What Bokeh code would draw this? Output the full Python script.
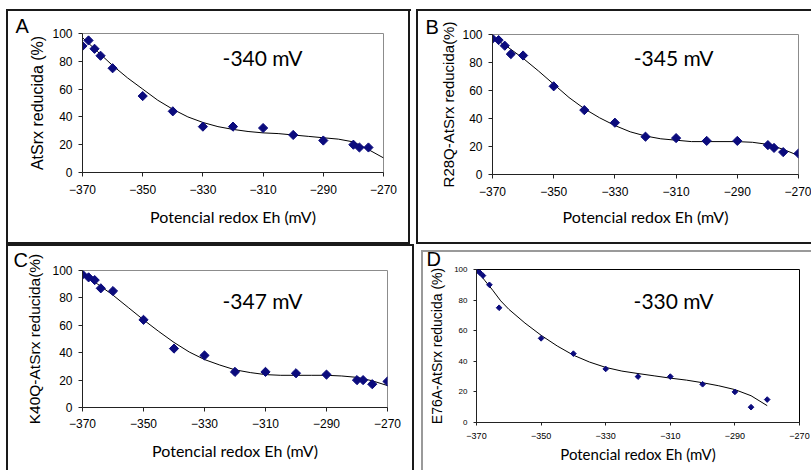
from bokeh.plotting import figure
from bokeh.models import Range1d, FixedTicker, Label, Title
from bokeh.layouts import row, column
from bokeh.embed import file_html
from bokeh.resources import INLINE

# ---------------- data ----------------
x_ticks = [-370, -350, -330, -310, -290, -270]
y_ticks = [0, 20, 40, 60, 80, 100]

A_x = [-370, -368, -366, -364, -360, -350, -340, -330, -320, -310, -300, -290, -280, -278, -275]
A_y = [91, 95, 89, 84, 75, 55, 44, 33, 33, 32, 27, 23, 20, 18, 18]
A_fit_x = [-370, -365, -360, -355, -350, -345, -340, -335, -330, -325, -320, -315, -310, -305, -300, -295, -290, -285, -280, -275, -270]
A_fit_y = [97, 87, 77, 68, 60, 52, 45.5, 40, 36, 33, 31, 29.5, 28.5, 28, 27, 26, 25, 24, 22, 16.5, 10.5]

B_x = [-370, -368, -366, -364, -360, -350, -340, -330, -320, -310, -300, -290, -280, -278, -275, -270]
B_y = [97, 96, 92, 86, 85, 63, 46, 37, 27, 26, 24, 24, 21, 19, 16, 15]
B_fit_x = A_fit_x
B_fit_y = [98, 91, 83, 74, 64.5, 55, 47, 40.5, 35, 30.5, 27.5, 25.5, 24.5, 23.5, 23.5, 23.5, 23.5, 23, 21.5, 18, 13.5]

C_x = [-370, -368, -366, -364, -360, -350, -340, -330, -320, -310, -300, -290, -280, -278, -275, -270]
C_y = [97, 95, 93, 87, 85, 64, 43, 38, 26, 26, 25, 24, 20, 20, 17, 19]
C_fit_x = A_fit_x
C_fit_y = [98, 90, 82, 73, 64, 55.5, 47.5, 40.5, 35, 31, 27.5, 25.5, 24, 23.5, 23.5, 23.5, 23.5, 23, 22, 19.5, 16]

D_x = [-370, -369, -368, -366, -363, -350, -340, -330, -320, -310, -300, -290, -285, -280]
D_y = [99, 98, 96, 90, 75, 55, 45, 35, 30, 30, 25, 20, 10, 15]
D_fit_x = [-370, -367.5, -365, -362.5, -360, -355, -350, -345, -340, -335, -330, -325, -320, -315, -310, -305, -300, -295, -290, -285, -280]
D_fit_y = [100, 93, 86.5, 79.5, 74, 65, 57, 50, 44, 39.5, 36, 33.6, 32, 30.5, 29, 27.7, 26, 24, 21.5, 17.5, 11]

MARK = "#0b0b7d"
BOXC = "#1a1a1a"


def box_styles(rects):
    return {
        "background-image": ", ".join(f"linear-gradient({c}, {c})" for (_, _, _, _, c) in rects),
        "background-position": ", ".join(f"{x}px {y}px" for (x, y, _, _, _) in rects),
        "background-size": ", ".join(f"{w}px {h}px" for (_, _, w, h, _) in rects),
        "background-repeat": "no-repeat",
    }


def panel(W, H, fl, fr, ft, fb, xs, ys, fx, fy, ylab, letter, letter_off, letter_std, note, note_xy,
          rects, outline="#8c8c8c", tick_size="12px", ytick_size="12px",
          ylab_size="15px", xlab_size="16px", msize=6.5,
          x_std=8, x_lab_std=10, y_std=6, y_lab_std=8, tick_out=4):
    p = figure(width=W, height=H, x_range=Range1d(-370, -270), y_range=Range1d(0, 100),
               output_backend="svg", toolbar_location=None,
               min_border_left=fl, min_border_right=fr, min_border_top=ft, min_border_bottom=fb,
               styles=box_styles(rects))
    p.title = Title(text=letter, text_font="Liberation Sans", text_font_size="20px",
                    text_font_style="normal", text_color="black", align="left",
                    offset=letter_off, standoff=letter_std, vertical_align="bottom")
    p.grid.visible = False
    p.outline_line_color = outline
    p.outline_line_width = 1
    p.background_fill_color = "white"
    p.border_fill_color = None

    p.xaxis.ticker = FixedTicker(ticks=x_ticks)
    p.yaxis.ticker = FixedTicker(ticks=y_ticks)
    for ax in (p.xaxis[0], p.yaxis[0]):
        ax.minor_tick_line_color = None
        ax.major_tick_in = 0
        ax.major_tick_out = tick_out
        ax.axis_line_color = "#222222"
        ax.major_tick_line_color = "#222222"
        ax.major_label_text_font = "Liberation Sans"
        ax.major_label_text_color = "black"
        ax.axis_label_text_font_style = "normal"
        ax.axis_label_text_color = "black"
    p.xaxis.major_label_text_font_size = tick_size
    p.yaxis.major_label_text_font_size = ytick_size
    p.xaxis.major_label_standoff = x_std
    p.yaxis.major_label_standoff = y_std
    p.xaxis.axis_label = "Potencial redox Eh (mV)"
    p.xaxis.axis_label_text_font = "Lato"
    p.xaxis.axis_label_text_font_size = xlab_size
    p.xaxis.axis_label_standoff = x_lab_std
    p.yaxis.axis_label = ylab
    p.yaxis.axis_label_text_font = "Liberation Sans"
    p.yaxis.axis_label_text_font_size = ylab_size
    p.yaxis.axis_label_standoff = y_lab_std

    p.line(fx, fy, line_color="black", line_width=1)
    p.scatter(xs, ys, marker="square", angle=0.785, size=msize, fill_color=MARK, line_color=MARK)

    p.add_layout(Label(x=note_xy[0], y=note_xy[1], text=note, text_font="Lato",
                       text_font_size="21px", text_align="center", text_baseline="middle",
                       text_color="black"))
    return p


# panel A: canvas 0..414 x 0..244
pA = panel(414, 244, 82, 31, 33, 72, A_x, A_y, A_fit_x, A_fit_y,
           "AtSrx reducida (%)", "A", -67, -6, "-340 mV", (-310.2, 82.7),
           [(6, 9, 405, 2, BOXC), (6, 9, 2, 235, BOXC), (408, 9, 2, 235, BOXC), (6, 242, 404, 2, BOXC)],
           ylab_size="16px", x_std=8, x_lab_std=10, y_std=6, y_lab_std=3)
# panel B: canvas 414..811 x 0..244
pB = panel(397, 244, 78, 13, 34, 70, B_x, B_y, B_fit_x, B_fit_y,
           "R28Q-AtSrx reducida(%)", "B", -67, -6, "-345 mV", (-310.8, 83.6),
           [(2, 9, 395, 2, BOXC), (2, 9, 2, 235, BOXC), (2, 242, 395, 2, BOXC)],
           ylab_size="15px", x_std=8, x_lab_std=8, y_std=6, y_lab_std=2)
# panel C: canvas 0..418 x 244..470
pC = panel(418, 226, 82, 31, 26, 63, C_x, C_y, C_fit_x, C_fit_y,
           "K40Q-AtSrx reducida(%)", "C", -69, 0, "-347 mV", (-311, 78),
           [(6, 0, 408, 2, BOXC), (6, 0, 2, 226, BOXC), (412, 0, 2, 226, BOXC)],
           ylab_size="15.5px", x_std=7, x_lab_std=10, y_std=6, y_lab_std=6)
# panel D: canvas 418..811 x 244..470
pD = panel(393, 226, 58, 12, 25, 48, D_x, D_y, D_fit_x, D_fit_y,
           "E76A-AtSrx reducida (%)", "D", -50, 0, "-330 mV", (-309, 79.8),
           [(3, 6, 390, 2, "#9a9a9a"), (3, 6, 2, 220, "#9a9a9a"), (3, 215, 2, 11, BOXC)],
           outline="black", tick_size="9px", ytick_size="8px", ylab_size="14px",
           xlab_size="15px", msize=4, x_std=7, x_lab_std=3, y_std=6, y_lab_std=6, tick_out=3)

# wrap each figure so that frames are not aligned across a row
layout = column(row(column(pA), column(pB), spacing=0),
                row(column(pC), column(pD), spacing=0), spacing=0)

open("out.html", "w").write(file_html(layout, INLINE))
